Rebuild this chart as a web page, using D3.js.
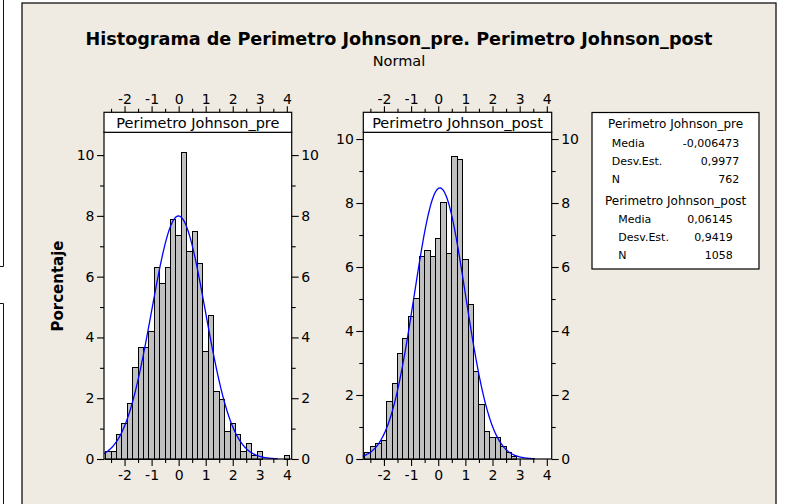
<!DOCTYPE html>
<html>
<head>
<meta charset="utf-8">
<script src="https://cdn.jsdelivr.net/npm/d3@7"></script>
<style>
  html, body { margin: 0; padding: 0; background: #ffffff; }
  svg { display: block; }
  text { font-family: "DejaVu Sans", Verdana, sans-serif; fill: #000; }
</style>
</head>
<body>
<div id="chart"></div>
<script>
// ---------------- data ----------------
const titleText = "Histograma de Perimetro Johnson_pre. Perimetro Johnson_post";
const subtitleText = "Normal";
const yLabelText = "Porcentaje";
const seriesNames = ["Perimetro Johnson_pre", "Perimetro Johnson_post"];

// bin midpoints (bin width 0.2)
const binWidth = 0.2;
const preMids = [-2.6,-2.4,-2.2,-2.0,-1.8,-1.6,-1.4,-1.2,-1.0,-0.8,-0.6,-0.4,-0.2,0.0,0.2,0.4,0.6,0.8,1.0,1.2,1.4,1.6,1.8,2.0,2.2,2.4,2.6,2.8,3.0,3.2,3.4,3.6,3.8,4.0];
const prePct  = [0.26,0.26,0.79,1.18,1.84,3.02,3.67,3.67,4.20,6.30,5.77,6.30,7.87,7.35,10.10,6.82,7.48,6.43,3.54,4.72,2.23,1.97,0.92,1.18,0.79,0.26,0.52,0.13,0.26,0,0,0,0,0.13];
const postMids = [-2.6,-2.4,-2.2,-2.0,-1.8,-1.6,-1.4,-1.2,-1.0,-0.8,-0.6,-0.4,-0.2,0.0,0.2,0.4,0.6,0.8,1.0,1.2,1.4,1.6,1.8,2.0,2.2,2.4,2.6,2.8];
const postPct  = [0.19,0.38,0.47,0.57,1.80,2.36,3.31,3.78,4.44,5.01,6.33,6.52,6.33,6.90,8.03,6.43,9.45,9.36,6.24,4.82,2.74,1.70,0.85,0.66,0.66,0.38,0.19,0.09];

// fitted normal parameters (as shown in the legend)
const means = [-0.006473, 0.06145];
const sds   = [0.9977, 0.9419];
const ns    = [762, 1058];
const meanLabels = ["-0,006473", "0,06145"];
const sdLabels   = ["0,9977", "0,9419"];
const nLabels    = ["762", "1058"];
const statNames  = ["Media", "Desv.Est.", "N"];

// axes
const xDomain = [-2.76, 4.18];
const xMajorTicks = [-2, -1, 0, 1, 2, 3, 4];
const xMinorTicks = [-2.5, -1.5, -0.5, 0.5, 1.5, 2.5, 3.5];
const yDomains = [[0, 10.75], [0, 10.21]];
const yMajorTicks = [0, 2, 4, 6, 8, 10];
const yMinorTicks = [1, 3, 5, 7, 9];
const curveRanges = [[-2.76, 3.67], [-2.78, 3.56]];

// ---------------- drawing ----------------
const W = 788, H = 504;
const svg = d3.select("#chart").append("svg").attr("width", W).attr("height", H);

svg.append("rect").attr("x", 0).attr("y", 0).attr("width", W).attr("height", H).attr("fill", "#ffffff");
// fragments of neighbouring frames at the far left
svg.append("path").attr("d", "M3.5,0 V266.5 H0 M0,303.5 H3.5 V504")
  .attr("fill", "none").attr("stroke", "#111").attr("stroke-width", 1);

// main panel
svg.append("rect").attr("x", 22).attr("y", 3).attr("width", 754).attr("height", 510)
  .attr("fill", "#EFEBE2").attr("stroke", "#111").attr("stroke-width", 1.3);

// titles
svg.append("text").attr("x", 399).attr("y", 45).attr("text-anchor", "middle")
  .attr("font-size", 18).attr("font-weight", "bold")
  .attr("textLength", 627).attr("lengthAdjust", "spacingAndGlyphs")
  .text(titleText);
svg.append("text").attr("x", 399).attr("y", 65.5).attr("text-anchor", "middle")
  .attr("font-size", 14.5).text(subtitleText);

svg.append("text").attr("transform", "translate(63,286) rotate(-90)")
  .attr("text-anchor", "middle").attr("font-size", 15).attr("font-weight", "bold")
  .text(yLabelText);

const panels = [
  { left: 104, right: 291.7, mids: preMids, pct: prePct },
  { left: 363.3, right: 551.7, mids: postMids, pct: postPct }
];
const stripTop = 112.3, plotTop = 132.3, plotBottom = 459;
const fmt = d => String(d);

panels.forEach((p, i) => {
  const x = d3.scaleLinear().domain(xDomain).range([p.left, p.right]);
  const y = d3.scaleLinear().domain(yDomains[i]).range([plotBottom, plotTop]);
  const g = svg.append("g");

  g.append("rect").attr("x", p.left).attr("y", plotTop).attr("width", p.right - p.left)
    .attr("height", plotBottom - plotTop).attr("fill", "#ffffff");

  const bins = p.mids.map((m, k) => ({ m, v: p.pct[k] })).filter(d => d.v > 0);
  g.append("g").selectAll("rect").data(bins).join("rect")
    .attr("x", d => x(d.m - binWidth / 2))
    .attr("width", d => x(d.m + binWidth / 2) - x(d.m - binWidth / 2))
    .attr("y", d => y(d.v))
    .attr("height", d => y(0) - y(d.v))
    .attr("fill", "#C0C0C0").attr("stroke", "#000").attr("stroke-width", 1)
    .attr("shape-rendering", "crispEdges");

  // fitted normal curve (percent scale)
  const pdf = v => 100 * binWidth * Math.exp(-0.5 * Math.pow((v - means[i]) / sds[i], 2)) / (sds[i] * Math.sqrt(2 * Math.PI));
  const pts = d3.range(curveRanges[i][0], curveRanges[i][1] + 1e-9, 0.02);
  g.append("path").datum(pts)
    .attr("d", d3.line().x(v => x(v)).y(v => y(pdf(v))))
    .attr("fill", "none").attr("stroke", "#0000FF").attr("stroke-width", 1.3);

  // plot frame
  g.append("rect").attr("x", p.left).attr("y", plotTop).attr("width", p.right - p.left)
    .attr("height", plotBottom - plotTop).attr("fill", "none").attr("stroke", "#000").attr("stroke-width", 1.2);

  // strip
  g.append("rect").attr("x", p.left).attr("y", stripTop).attr("width", p.right - p.left)
    .attr("height", plotTop - stripTop).attr("fill", "#ffffff").attr("stroke", "#000").attr("stroke-width", 1.2);
  g.append("text").attr("x", (p.left + p.right) / 2).attr("y", 127.5).attr("text-anchor", "middle")
    .attr("font-size", 14.5).text(seriesNames[i]);

  const styleAxis = sel => {
    sel.select(".domain").remove();
    sel.selectAll("line").attr("stroke", "#000").attr("stroke-width", 1.1);
    sel.selectAll("text").attr("font-size", 14).attr("font-family", "DejaVu Sans, sans-serif").attr("fill", "#000");
  };

  // bottom axis
  g.append("g").attr("transform", `translate(0,${plotBottom})`)
    .call(d3.axisBottom(x).tickValues(xMajorTicks).tickFormat(fmt).tickSize(7).tickPadding(4)).call(styleAxis);
  g.append("g").attr("transform", `translate(0,${plotBottom})`)
    .call(d3.axisBottom(x).tickValues(xMinorTicks).tickFormat("").tickSize(4)).call(styleAxis);
  // top axis
  g.append("g").attr("transform", `translate(0,${stripTop})`)
    .call(d3.axisTop(x).tickValues(xMajorTicks).tickFormat(fmt).tickSize(6).tickPadding(2)).call(styleAxis);
  g.append("g").attr("transform", `translate(0,${stripTop})`)
    .call(d3.axisTop(x).tickValues(xMinorTicks).tickFormat("").tickSize(3.5)).call(styleAxis);
  // left axis
  g.append("g").attr("transform", `translate(${p.left},0)`)
    .call(d3.axisLeft(y).tickValues(yMajorTicks).tickFormat(fmt).tickSize(7).tickPadding(2.5)).call(styleAxis);
  g.append("g").attr("transform", `translate(${p.left},0)`)
    .call(d3.axisLeft(y).tickValues(yMinorTicks).tickFormat("").tickSize(4)).call(styleAxis);
  // right axis
  g.append("g").attr("transform", `translate(${p.right},0)`)
    .call(d3.axisRight(y).tickValues(yMajorTicks).tickFormat(fmt).tickSize(7).tickPadding(2.5)).call(styleAxis);
  g.append("g").attr("transform", `translate(${p.right},0)`)
    .call(d3.axisRight(y).tickValues(yMinorTicks).tickFormat("").tickSize(4)).call(styleAxis);
});

// legend box
const lg = svg.append("g");
lg.append("rect").attr("x", 592).attr("y", 112.5).attr("width", 167).attr("height", 156.5)
  .attr("fill", "#ffffff").attr("stroke", "#000").attr("stroke-width", 1.2);
const legendLayout = [
  { headY: 128.3, rowYs: [146.5, 164.8, 182.6], labelX: 611.7, valueX: 739.3 },
  { headY: 205, rowYs: [223.3, 241, 258.6], labelX: 618.3, valueX: 732.7 }
];
legendLayout.forEach((L, i) => {
  lg.append("text").attr("x", 675.6).attr("y", L.headY).attr("text-anchor", "middle")
    .attr("font-size", 12).text(seriesNames[i]);
  const vals = [meanLabels[i], sdLabels[i], nLabels[i]];
  statNames.forEach((s, k) => {
    lg.append("text").attr("x", L.labelX).attr("y", L.rowYs[k]).attr("font-size", 11).text(s);
    lg.append("text").attr("x", L.valueX).attr("y", L.rowYs[k]).attr("text-anchor", "end")
      .attr("font-size", 11).text(vals[k]);
  });
});
</script>
</body>
</html>
